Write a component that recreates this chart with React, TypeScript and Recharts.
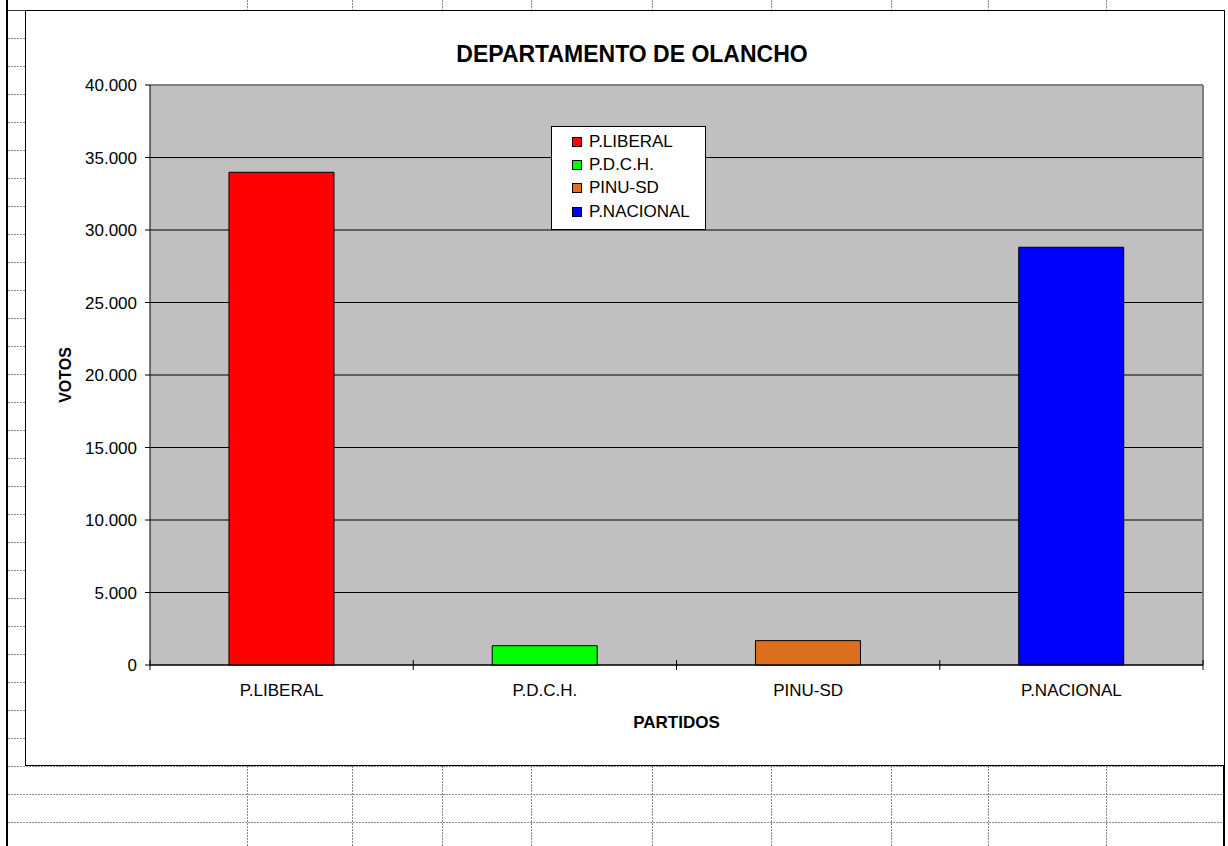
import React from 'react';
import { BarChart, Bar, XAxis, YAxis, CartesianGrid, Cell, Legend, ReferenceLine } from 'recharts';

const categories = ['P.LIBERAL', 'P.D.C.H.', 'PINU-SD', 'P.NACIONAL'];
const votes = [33980, 1330, 1680, 28810];
const colors = ['#FF0000', '#00FF00', '#DC6E1E', '#0000FF'];
const yTicks = [0, 5000, 10000, 15000, 20000, 25000, 30000, 35000, 40000];
const title = 'DEPARTAMENTO DE OLANCHO';
const yLabel = 'VOTOS';
const xLabel = 'PARTIDOS';

const data = categories.map((c, i) => ({ partido: c, votos: votes[i] }));

const FONT = '"Liberation Sans", Arial, sans-serif';
const fmt = (v: number) => (v === 0 ? '0' : v.toLocaleString('de-DE'));

const colX = [247, 352, 442, 531, 652, 771, 891, 988, 1106];

function Sheet() {
  const leftRows: number[] = [];
  for (let y = 10; y <= 766; y += 28) leftRows.push(y);
  const dash = { stroke: '#8a8a8a', strokeDasharray: '2,1', strokeWidth: 1 };
  return (
    <svg width={1228} height={846} style={{ position: 'absolute', left: 0, top: 0 }}>
      {leftRows.map((y) => (
        <line key={'l' + y} x1={8} x2={25} y1={y + 0.5} y2={y + 0.5} {...dash} />
      ))}
      {[794, 822].map((y) => (
        <line key={'b' + y} x1={8} x2={1224} y1={y + 0.5} y2={y + 0.5} {...dash} />
      ))}
      <line x1={8} x2={1224} y1={766.5} y2={766.5} {...dash} />
      {colX.map((x) => (
        <g key={'c' + x}>
          <line x1={x + 0.5} x2={x + 0.5} y1={0} y2={10} {...dash} />
          <line x1={x + 0.5} x2={x + 0.5} y1={766} y2={846} {...dash} />
        </g>
      ))}
      <line x1={8} x2={1224} y1={10.5} y2={10.5} stroke="#333" strokeWidth={1} />
      <line x1={7} x2={7} y1={0} y2={846} stroke="#000" strokeWidth={2} />
      <line x1={1224} x2={1224} y1={10} y2={846} stroke="#000" strokeWidth={2} />
    </svg>
  );
}

function LegendBox() {
  return (
    <div
      style={{
        border: '1px solid #000',
        background: '#fff',
        width: 153,
        height: 99,
        boxSizing: 'content-box',
        paddingTop: 3,
        fontFamily: FONT,
        fontSize: 17,
        color: '#000',
      }}
    >
      {categories.map((c, i) => (
        <div key={c} style={{ display: 'flex', alignItems: 'center', height: 23.3, paddingLeft: 20 }}>
          <span
            style={{
              display: 'inline-block',
              width: 8,
              height: 8,
              background: colors[i],
              border: '1px solid #000',
              marginRight: 7,
            }}
          />
          <span>{c}</span>
        </div>
      ))}
    </div>
  );
}

function CategoryTick(p: any) {
  const n = p.visibleTicksCount || categories.length;
  const hb = p.width ? p.width / n / 2 : 0;
  const y0 = p.y;
  return (
    <g>
      {hb > 0 && <line x1={p.x - hb} x2={p.x - hb} y1={y0 - 5} y2={y0 + 5} stroke="#000" strokeWidth={1} />}
      {hb > 0 && p.index === n - 1 && (
        <line x1={p.x + hb} x2={p.x + hb} y1={y0 - 5} y2={y0 + 5} stroke="#000" strokeWidth={1} />
      )}
      <text x={p.x} y={y0 + 19} dy="0.71em" textAnchor="middle" fill="#000" fontSize={17} fontFamily={FONT}>
        {p.payload.value}
      </text>
    </g>
  );
}

export default function App() {
  return (
    <div style={{ position: 'absolute', left: 0, top: 0, width: 1228, height: 846, background: '#fff' }}>
      <Sheet />
      <div
        style={{
          position: 'absolute',
          left: 25,
          top: 10,
          width: 1198,
          height: 754,
          border: '1px solid #000',
          background: '#fff',
        }}
      >
        <div
          style={{
            position: 'absolute',
            left: 0,
            width: 1198,
            top: 30,
            textAlign: 'center',
            paddingLeft: 14,
            boxSizing: 'border-box',
            fontFamily: FONT,
            fontWeight: 'bold',
            fontSize: 23,
            color: '#000',
            lineHeight: '26px',
          }}
        >
          {title}
        </div>
        <div
          style={{
            position: 'absolute',
            left: 40 - 40,
            top: 364 - 10,
            width: 80,
            height: 20,
            transform: 'rotate(-90deg)',
            textAlign: 'center',
            fontFamily: FONT,
            fontWeight: 'bold',
            fontSize: 16,
            lineHeight: '20px',
            color: '#000',
          }}
        >
          {yLabel}
        </div>
        <BarChart
          width={1198}
          height={754}
          data={data}
          margin={{ top: 74, right: 21, bottom: 70, left: 24 }}
          barCategoryGap="30%"
          style={{ fontFamily: FONT }}
        >
          <CartesianGrid vertical={false} stroke="#000" fill="#C0C0C0" fillOpacity={1} />
          <CartesianGrid
            horizontal={false}
            stroke="#808080"
            strokeWidth={2}
            verticalCoordinatesGenerator={({ offset }: any) => [offset.left + offset.width]}
          />
          <XAxis
            dataKey="partido"
            height={30}
            axisLine={{ stroke: '#000' }}
            tickLine={false}
            tickSize={0}
            tickMargin={0}
            interval={0}
            tick={<CategoryTick />}
            label={{
              value: xLabel,
              position: 'bottom',
              offset: 21,
              fill: '#000',
              fontSize: 17,
              fontWeight: 'bold',
              fontFamily: FONT,
            }}
          />
          <YAxis
            width={100}
            domain={[0, 40000]}
            ticks={yTicks}
            interval={0}
            tickFormatter={fmt}
            axisLine={{ stroke: '#000' }}
            tickLine={{ stroke: '#000' }}
            tickSize={5}
            tickMargin={8}
            tick={{ fill: '#000', fontSize: 17, fontFamily: FONT }}
          />
          <ReferenceLine y={40000} stroke="#808080" strokeWidth={2} />
          <Legend
            layout="vertical"
            align="center"
            verticalAlign="middle"
            wrapperStyle={{ position: 'absolute', left: 525, top: 115, width: 155, height: 101 }}
            content={() => <LegendBox />}
          />
          <Bar dataKey="votos" stroke="#000" strokeWidth={1} isAnimationActive={false}>
            {data.map((d, i) => (
              <Cell key={d.partido} fill={colors[i]} />
            ))}
          </Bar>
        </BarChart>
      </div>
    </div>
  );
}
